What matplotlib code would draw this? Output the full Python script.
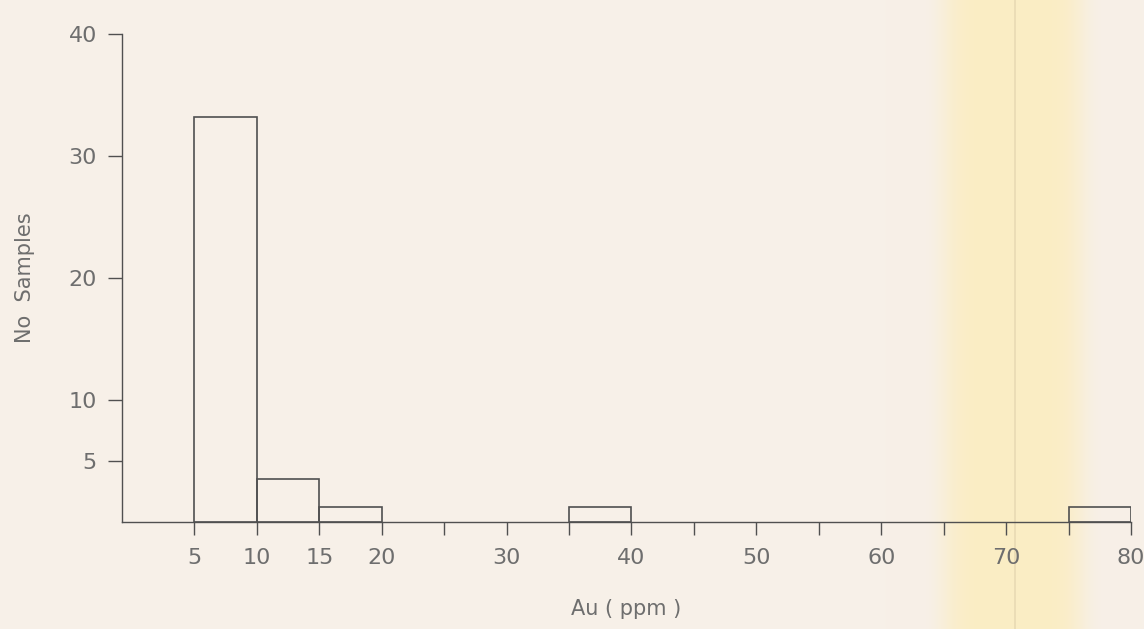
import matplotlib.pyplot as plt
import numpy as np

# histogram of Au values, bins of 5 ppm
bin_left = [5, 10, 15, 35, 75]
counts = [33.2, 3.5, 1.25, 1.25, 1.25]
bin_width = 5

tick_pos = list(range(5, 85, 5))
tick_lab = ['5', '10', '15', '20', '', '30', '', '40', '', '50', '', '60', '', '70', '', '80']
ytick_pos = [5, 10, 20, 30, 40]

paper = '#f7f0e8'
ink = '#505050'
txt = '#6e6e6e'

fig = plt.figure(figsize=(11.44, 6.29), dpi=100)
fig.patch.set_facecolor(paper)

# scanned page: yellowish band on the right
bg = fig.add_axes([0, 0, 1, 1], zorder=-1)
bg.set_axis_off()
xs = np.linspace(0, 1, 1144)
band = np.exp(-((xs - 0.886) / 0.062) ** 6)
base = np.array([247, 240, 232]) / 255
yel = np.array([251, 237, 196]) / 255
img = base[None, :] + band[:, None] * (yel - base)[None, :]
bg.imshow(img[None, :, :], aspect='auto', extent=[0, 1, 0, 1],
          interpolation='nearest')
bg.axvline(0.887, color='#e8dab4', lw=1.2)
bg.set_xlim(0, 1)
bg.set_ylim(0, 1)

ax = fig.add_axes([122 / 1144, 107 / 629, 1009 / 1144, 488 / 629])
ax.patch.set_alpha(0)

ax.bar(bin_left, counts, width=bin_width, align='edge', fill=False,
       edgecolor=ink, linewidth=1.2)

ax.set_xlim(-0.8, 80)
ax.set_ylim(0, 40)
for s in ['top', 'right']:
    ax.spines[s].set_visible(False)
for s in ['left', 'bottom']:
    ax.spines[s].set_color(ink)
    ax.spines[s].set_linewidth(1.0)

ax.set_xticks(tick_pos)
ax.set_xticklabels(tick_lab)
ax.set_yticks(ytick_pos)
ax.set_yticklabels([str(v) for v in ytick_pos])
ax.tick_params(axis='x', direction='out', length=9, width=1.0, color=ink,
               labelsize=16, labelcolor=txt, pad=10)
ax.tick_params(axis='y', direction='out', length=10, width=1.0, color=ink,
               labelsize=16, labelcolor=txt, pad=8)

ax.set_xlabel('Au ( ppm )', fontsize=15, color=txt, labelpad=22)
ax.set_ylabel('No  Samples', fontsize=15, color=txt, labelpad=24)

fig.savefig('out.png', dpi=100, facecolor=paper)
